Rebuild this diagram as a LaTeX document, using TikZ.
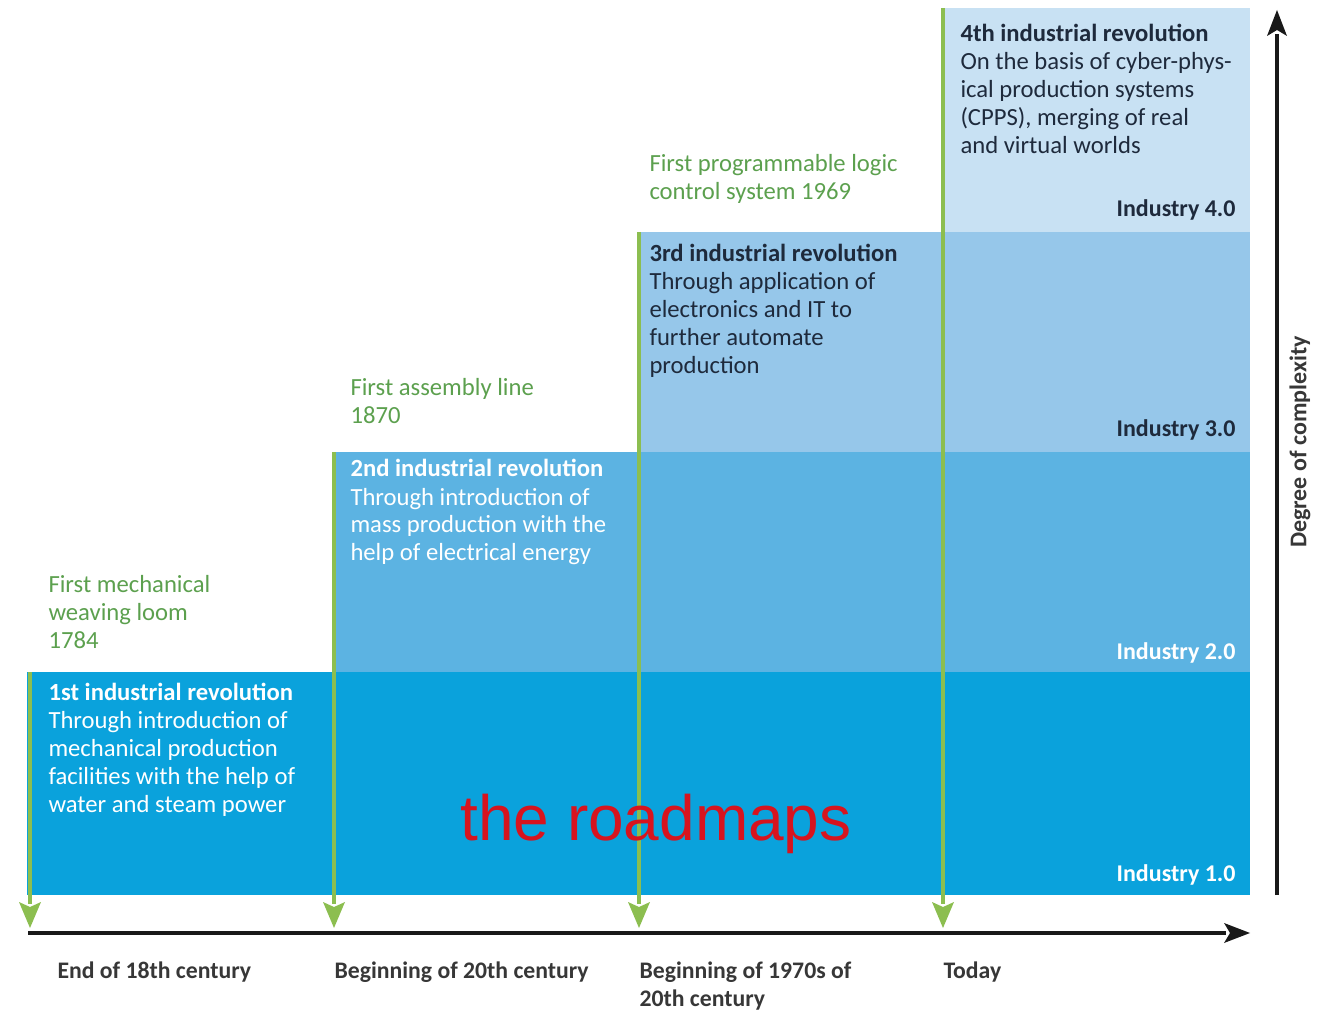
\documentclass[tikz,border=0pt]{standalone}
\usepackage{fontspec}
\setmainfont{Carlito}
\newfontfamily\markfont{Liberation Sans}

\tikzset{every picture/.style={line width=0.75pt}}
% text nodes are placed at the baseline of their last line
\tikzset{
  bodytext/.style={anchor=base west, inner sep=0pt, align=left, font=\fontsize{18.5}{21}\selectfont},
  whitetext/.style={bodytext, text=white},
  darktext/.style={bodytext, text={rgb, 255:red, 30; green, 42; blue, 60}},
  inventtext/.style={bodytext, text={rgb, 255:red, 92; green, 160; blue, 78}},
  eratext/.style={bodytext, text={rgb, 255:red, 55; green, 55; blue, 55}, font=\bfseries\fontsize{17.8}{21}\selectfont},
  leveltext/.style={anchor=base east, inner sep=0pt, font=\bfseries\fontsize{18}{21}\selectfont},
  greenline/.style={draw={rgb, 255:red, 140; green, 190; blue, 80}, line width=3pt},
  greenhead/.style={draw=none, fill={rgb, 255:red, 140; green, 190; blue, 80}},
  axisline/.style={draw={rgb, 255:red, 25; green, 25; blue, 25}, line width=2.3pt},
  axishead/.style={draw=none, fill={rgb, 255:red, 25; green, 25; blue, 25}},
}

\begin{document}
\begin{tikzpicture}[x=0.75pt,y=0.75pt,yscale=-1,xscale=1]
\useasboundingbox (0,0) rectangle (1332,1012);

%Shape: Rectangle -- Industry 4.0
\fill [fill={rgb, 255:red, 200; green, 225; blue, 243}] (943,8) -- (1250,8) -- (1250,232) -- (943,232) -- cycle ;
%Shape: Rectangle -- Industry 3.0
\fill [fill={rgb, 255:red, 150; green, 199; blue, 234}] (638,232) -- (1250,232) -- (1250,452) -- (638,452) -- cycle ;
%Shape: Rectangle -- Industry 2.0
\fill [fill={rgb, 255:red, 92; green, 179; blue, 226}] (333,452) -- (1250,452) -- (1250,672) -- (333,672) -- cycle ;
%Shape: Rectangle -- Industry 1.0
\fill [fill={rgb, 255:red, 10; green, 162; blue, 220}] (27,672) -- (1250,672) -- (1250,895) -- (27,895) -- cycle ;

%Straight Lines -- time axis
\coordinate (origin) at (28,933);
\coordinate (timeend) at (1250,933);
\draw [axisline, shorten >=18pt] (origin) -- (timeend) ;
\draw [shift={(timeend)}] [axishead] (0,0) -- (-26,-10) -- (-20,0) -- (-26,10) -- cycle ;
%Straight Lines -- complexity axis
\coordinate (cbase) at (1277,895);
\coordinate (cend) at (1277,10);
\draw [axisline, shorten >=18pt] (cbase) -- (cend) ;
\draw [shift={(cend)}] [axishead] (0,0) -- (-10,26) -- (0,20) -- (10,26) -- cycle ;

%Straight Lines -- milestones
\coordinate (m1) at (30,672);
\coordinate (t1) at (30,928);
\draw [greenline, shorten >=18pt] (m1) -- (t1) ;
\draw [shift={(t1)}] [greenhead] (0,0) -- (-11,-26) -- (0,-21) -- (11,-26) -- cycle ;
\coordinate (m2) at (334,452);
\coordinate (t2) at (334,928);
\draw [greenline, shorten >=18pt] (m2) -- (t2) ;
\draw [shift={(t2)}] [greenhead] (0,0) -- (-11,-26) -- (0,-21) -- (11,-26) -- cycle ;
\coordinate (m3) at (639,232);
\coordinate (t3) at (639,928);
\draw [greenline, shorten >=18pt] (m3) -- (t3) ;
\draw [shift={(t3)}] [greenhead] (0,0) -- (-11,-26) -- (0,-21) -- (11,-26) -- cycle ;
\coordinate (m4) at (943,8);
\coordinate (t4) at (943,928);
\draw [greenline, shorten >=18pt] (m4) -- (t4) ;
\draw [shift={(t4)}] [greenhead] (0,0) -- (-11,-26) -- (0,-21) -- (11,-26) -- cycle ;

% Text Node
\draw (48,648) node (loom) [inventtext] {First mechanical\\weaving loom\\1784};
% Text Node
\draw (48,812) node (rev1) [whitetext] {\textbf{1st industrial revolution}\\Through introduction of\\mechanical production\\facilities with the help of\\water and steam power};
% Text Node
\draw (350,424) node (assembly) [inventtext] {First assembly line\\1870};
% Text Node
\draw (350,561) node (rev2) [whitetext] {\textbf{2nd industrial revolution}\\Through introduction of\\mass production with the\\help of electrical energy};
% Text Node
\draw (649,200) node (plc) [inventtext] {First programmable logic\\control system 1969};
% Text Node
\draw (649,374) node (rev3) [darktext] {\textbf{3rd industrial revolution}\\Through application of\\electronics and IT to\\further automate\\production};
% Text Node
\draw (960,154) node (rev4) [darktext] {\textbf{4th industrial revolution}\\On the basis of cyber-phys-\\ical production systems\\(CPPS), merging of real\\and virtual worlds};

% Text Node
\draw (1236,217) node (ind4) [leveltext, text={rgb, 255:red, 30; green, 42; blue, 60}] {Industry 4.0};
% Text Node
\draw (1236,437) node (ind3) [leveltext, text={rgb, 255:red, 30; green, 42; blue, 60}] {Industry 3.0};
% Text Node
\draw (1236,659) node (ind2) [leveltext, text=white] {Industry 2.0};
% Text Node
\draw (1236,881) node (ind1) [leveltext, text=white] {Industry 1.0};

% Text Node
\draw (57,978) node (era1) [eratext] {End of 18th century};
% Text Node
\draw (334,978) node (era2) [eratext] {Beginning of 20th century};
% Text Node
\draw (639,1006) node (era3) [eratext] {Beginning of 1970s of\\20th century};
% Text Node
\draw (943,978) node (era4) [eratext] {Today};
% Text Node
\draw (1300,442) node (complexity) [rotate=90, inner sep=0pt, text={rgb, 255:red, 55; green, 55; blue, 55}, font=\bfseries\fontsize{18}{21}\selectfont] {Degree of complexity};

% Text Node
\draw (656,840) node (mark) [anchor=base, inner sep=0pt, text={rgb, 255:red, 215; green, 20; blue, 30}, font=\markfont\fontsize{48}{48}\selectfont] {the roadmaps};

\end{tikzpicture}
\end{document}
